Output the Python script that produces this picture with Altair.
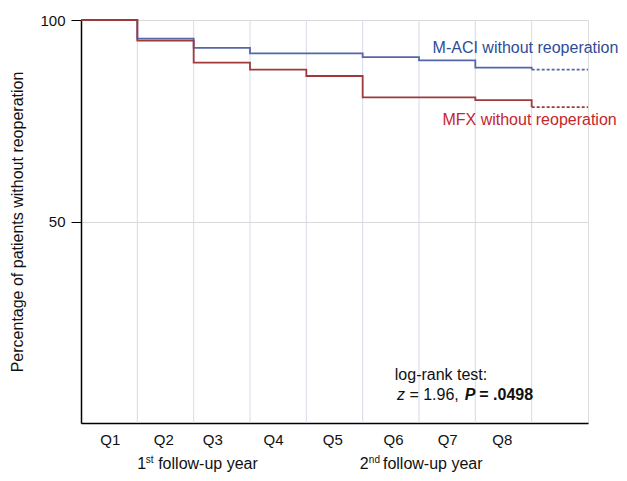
import altair as alt
import pandas as pd

FONT = "Liberation Sans"

# Kaplan-Meier step data (x in quarters)
aci_x = [0, 1, 2, 3, 4, 5, 6, 7, 8]
aci_y = [100, 95.4, 93.1, 91.7, 91.7, 90.8, 90.0, 88.2, 87.7]
mfx_x = [0, 1, 2, 3, 4, 5, 6, 7, 8]
mfx_y = [100, 94.9, 89.4, 87.7, 86.1, 80.8, 80.8, 80.1, 78.4]
aci_dash_x = [8, 9]
aci_dash_y = [87.7, 87.7]
mfx_dash_x = [8, 9]
mfx_dash_y = [78.4, 78.4]

# x-axis quarter labels (irregular placement as in the original)
q_labels = ["Q1", "Q2", "Q3", "Q4", "Q5", "Q6", "Q7", "Q8"]
q_pos = [0.51, 1.46, 2.33, 3.41, 4.46, 5.54, 6.50, 7.47]
grid_x = [1, 2, 3, 4, 5, 6, 7, 8]
y_ticks = [50, 100]

BLUE_LINE = "#5567a8"
RED_LINE = "#a03a3a"
BLUE_TXT = "#2f4c96"
RED_TXT = "#c4262c"

W, H = 507, 403
xs = alt.Scale(domain=[0, 9], nice=False, zero=False)
ys = alt.Scale(domain=[0, 100], nice=False)

aci = pd.DataFrame({"x": aci_x, "y": aci_y})
mfx = pd.DataFrame({"x": mfx_x, "y": mfx_y})
aci_d = pd.DataFrame({"x": aci_dash_x, "y": aci_dash_y})
mfx_d = pd.DataFrame({"x": mfx_dash_x, "y": mfx_dash_y})

vgrid = alt.Chart(pd.DataFrame({"x": grid_x})).mark_rule(color="#d6dae9", strokeWidth=1).encode(
    x=alt.X("x:Q", scale=xs), y=alt.value(0), y2=alt.value(H))

label_expr = ("['" + "','".join(q_labels) + "'][indexof([" +
              ",".join(str(v) for v in q_pos) + "], datum.value)]")

base_axes = alt.Chart(pd.DataFrame({"x": [0], "y": [0]})).mark_point(opacity=0).encode(
    x=alt.X("x:Q", scale=xs, axis=alt.Axis(
        values=q_pos, labelExpr=label_expr,
        grid=False, ticks=False, domainColor="#000000", domainWidth=1.5,
        labelFont=FONT, labelFontSize=15, labelColor="#111111", labelPadding=9, title=None)),
    y=alt.Y("y:Q", scale=ys, axis=alt.Axis(
        values=y_ticks, grid=True, gridColor="#d9d9d9", tickSize=10, tickColor="#000000",
        domainColor="#000000", domainWidth=1.5, labelFont=FONT, labelFontSize=15,
        labelColor="#111111", labelPadding=6,
        title="Percentage of patients without reoperation", titleFont=FONT,
        titleFontSize=16, titleFontWeight="normal", titleColor="#111111", titlePadding=14)),
)

def steps(df, color, dash=None):
    kw = dict(interpolate="step-after", color=color, strokeWidth=1.8)
    if dash:
        kw["strokeDash"] = dash
    return alt.Chart(df).mark_line(**kw).encode(x=alt.X("x:Q", scale=xs), y=alt.Y("y:Q", scale=ys))

def txt(t, x, y, size=16, weight="normal", style="normal", color="#111111", align="left",
        baseline="middle"):
    return alt.Chart(pd.DataFrame({"x": [x], "y": [y], "t": [t]})).mark_text(
        align=align, baseline=baseline, font=FONT, fontSize=size, fontWeight=weight,
        fontStyle=style, color=color).encode(
        x=alt.X("x:Q", scale=xs), y=alt.Y("y:Q", scale=ys), text="t:N")

# annotation texts
ann_text = ["M-ACI without reoperation", "MFX without reoperation"]
ann_x = [9.54, 9.51]
ann_y = [93.0, 75.2]
ann_col = [BLUE_TXT, RED_TXT]
anns = [txt(ann_text[i], ann_x[i], ann_y[i], color=ann_col[i], align="right") for i in range(2)]

logrank = [
    txt("log-rank test:", 5.57, 11.9),
    txt("z", 5.61, 6.9, style="italic"),
    txt("= 1.96,", 5.83, 6.9),
    txt("P", 6.81, 6.9, weight="bold", style="italic"),
    txt("= .0498", 7.07, 6.9, weight="bold"),
]

YB = -11.5
years = [
    txt("1", 1.0, YB, baseline="alphabetic"),
    txt("st", 1.15, YB + 1.6, size=10, baseline="alphabetic"),
    txt("follow-up year", 1.37, YB, baseline="alphabetic"),
    txt("2", 4.95, YB, baseline="alphabetic"),
    txt("nd", 5.11, YB + 1.6, size=10, baseline="alphabetic"),
    txt("follow-up year", 5.36, YB, baseline="alphabetic"),
]

chart = alt.layer(
    vgrid, base_axes,
    steps(aci, BLUE_LINE), steps(mfx, RED_LINE),
    steps(aci_d, BLUE_LINE, [3, 2]), steps(mfx_d, RED_LINE, [3, 2]),
    *anns, *logrank, *years,
).properties(
    width=W, height=H,
    autosize=alt.AutoSizeParams(type="none"),
    padding={"left": 73, "top": 12, "right": 31, "bottom": 50},
).configure_view(stroke=None).configure(background="white")

chart.save("out.html", embed_options={"renderer": "svg", "actions": False})
